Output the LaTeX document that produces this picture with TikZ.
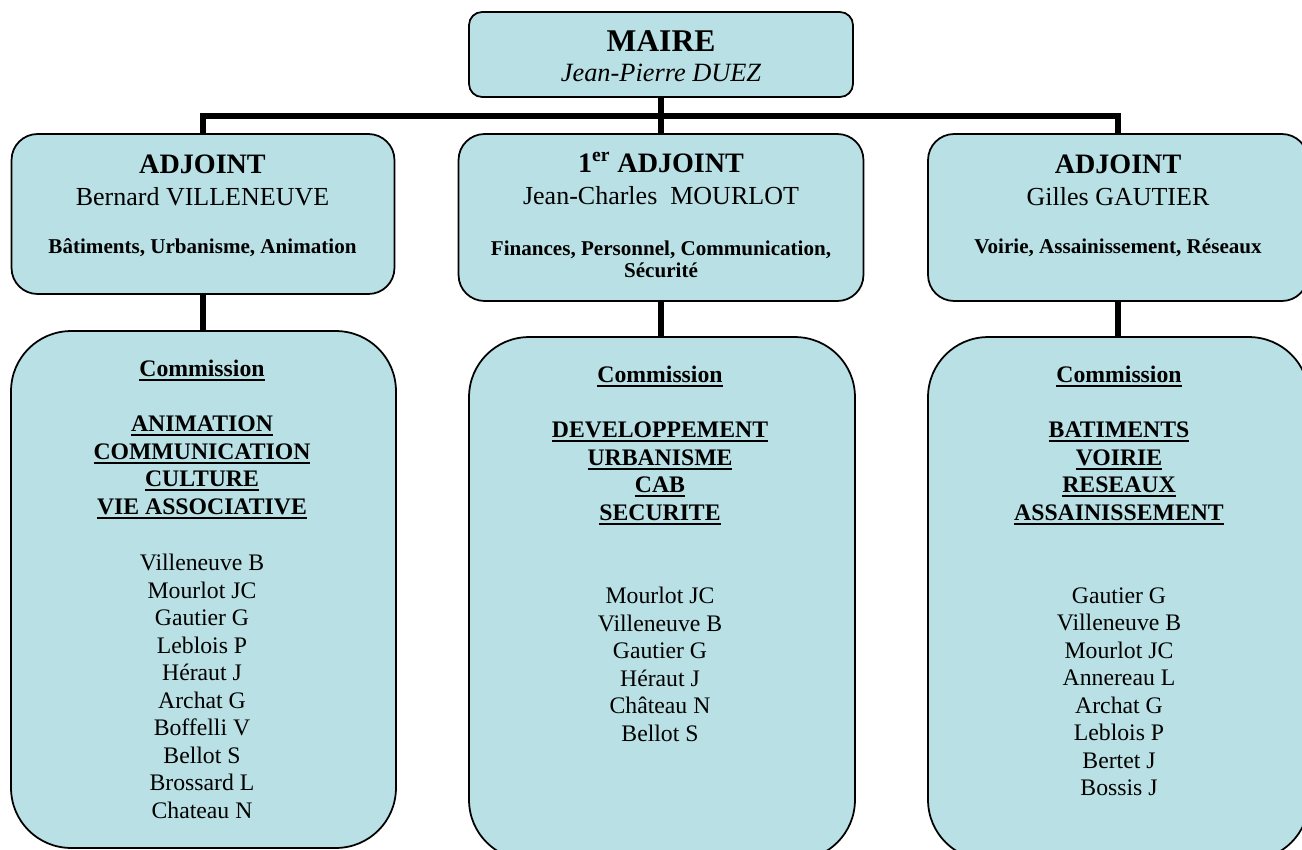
\documentclass[tikz,border=0pt]{standalone}
\usepackage{fontspec}
\setmainfont{Liberation Serif}
\usepackage{xcolor}
\definecolor{bleuclair}{RGB}{185,224,228}
\newcommand{\souligne}[1]{\setbox0\hbox{#1}\leavevmode\rlap{\rule[-2.6pt]{\wd0}{1.3pt}}\box0}

\begin{document}
\begin{tikzpicture}[x=0.02cm,y=-0.02cm,
         boite/.style={draw=black,line width=1pt,fill=bleuclair,rectangle,inner sep=0pt},
         lien/.style={line width=3.8pt,line join=miter},
         texte/.style={anchor=north,inner sep=0pt,align=center}]
         \useasboundingbox (0,0) rectangle (1302,849);
         \clip (0,0) rectangle (1302,849);
         \coordinate (bus) at (0,116);

         \node[boite,minimum width=7.68cm,minimum height=1.70cm,rounded corners=0.26cm] (maire) at (661,54.5) {};
         \node[boite,minimum width=7.66cm,minimum height=3.20cm,rounded corners=0.52cm] (adj-b) at (203,214) {};
         \node[boite,minimum width=8.10cm,minimum height=3.34cm,rounded corners=0.52cm] (adj-jc) at (661,217.5) {};
         \node[boite,minimum width=7.60cm,minimum height=3.34cm,rounded corners=0.52cm] (adj-g) at (1118,217.5) {};
         \node[boite,minimum width=7.70cm,minimum height=10.34cm,rounded corners=1.2cm] (com-b) at (203.5,589.5) {};
         \node[boite,minimum width=7.72cm,minimum height=10.46cm,rounded corners=1.2cm] (com-jc) at (662,598.5) {};
         \node[boite,minimum width=7.62cm,minimum height=10.46cm,rounded corners=1.2cm] (com-g) at (1118.5,598.5) {};

         \draw[lien] (maire) -- (adj-jc);
         \draw[lien] (adj-b.north) -- (adj-b.north |- bus) -- (adj-g.north |- bus) -- (adj-g.north);
         \draw[lien] (adj-b) -- (adj-b.south |- com-b.north);
         \draw[lien] (adj-jc) -- (adj-jc.south |- com-jc.north);
         \draw[lien] (adj-g) -- (adj-g.south |- com-g.north);

         \node[texte,font=\fontsize{15}{17.1}\selectfont\itshape] (maire-txt) at (661,30)
         {{\fontsize{18}{20}\selectfont\bfseries\upshape MAIRE}\\Jean-Pierre DUEZ};

         \node[texte,font=\fontsize{12}{12.5}\selectfont\bfseries] (adj-b-txt) at (202.5,155)
         {{\fontsize{16}{18}\selectfont ADJOINT}\\[5.7pt]
          {\fontsize{14.8}{16}\selectfont\mdseries Bernard VILLENEUVE}\\[14.8pt]
          Bâtiments, Urbanisme, Animation};
         \node[texte,font=\fontsize{12}{12.5}\selectfont\bfseries] (adj-jc-txt) at (661,152)
         {{\fontsize{16}{18}\selectfont 1\textsuperscript{er} ADJOINT}\\[5.7pt]
          {\fontsize{14.8}{16}\selectfont\mdseries Jean-Charles~~MOURLOT}\\[16.5pt]
          Finances, Personnel, Communication,\\Sécurité};
         \node[texte,font=\fontsize{12}{12.5}\selectfont\bfseries] (adj-g-txt) at (1118,155)
         {{\fontsize{16}{18}\selectfont ADJOINT}\\[5.7pt]
          {\fontsize{14.8}{16}\selectfont\mdseries Gilles GAUTIER}\\[14.8pt]
          Voirie, Assainissement, Réseaux};

         \node[texte,font=\fontsize{13.5}{15.65}\selectfont\bfseries] (com-b-titre) at (202,360)
         {\souligne{Commission}\\[15.65pt]
          \souligne{ANIMATION}\\\souligne{COMMUNICATION}\\\souligne{CULTURE}\\\souligne{VIE ASSOCIATIVE}};
         \node[texte,font=\fontsize{13.5}{15.65}\selectfont\bfseries] (com-jc-titre) at (660,366)
         {\souligne{Commission}\\[15.65pt]
          \souligne{DEVELOPPEMENT}\\\souligne{URBANISME}\\\souligne{CAB}\\\souligne{SECURITE}};
         \node[texte,font=\fontsize{13.5}{15.65}\selectfont\bfseries] (com-g-titre) at (1119,366)
         {\souligne{Commission}\\[15.65pt]
          \souligne{BATIMENTS}\\\souligne{VOIRIE}\\\souligne{RESEAUX}\\\souligne{ASSAINISSEMENT}};

         \node[texte,font=\fontsize{13.5}{15.65}\selectfont] (com-b-membres) at (202,554)
         {Villeneuve B\\Mourlot JC\\Gautier G\\Leblois P\\Héraut J\\Archat G\\Boffelli V\\Bellot S\\Brossard L\\Chateau N};
         \node[texte,font=\fontsize{13.5}{15.65}\selectfont] (com-jc-membres) at (660,587)
         {Mourlot JC\\Villeneuve B\\Gautier G\\Héraut J\\Château N\\Bellot S};
         \node[texte,font=\fontsize{13.5}{15.65}\selectfont] (com-g-membres) at (1119,587)
         {Gautier G\\Villeneuve B\\Mourlot JC\\Annereau L\\Archat G\\Leblois P\\Bertet J\\Bossis J};
      \end{tikzpicture}
\end{document}
